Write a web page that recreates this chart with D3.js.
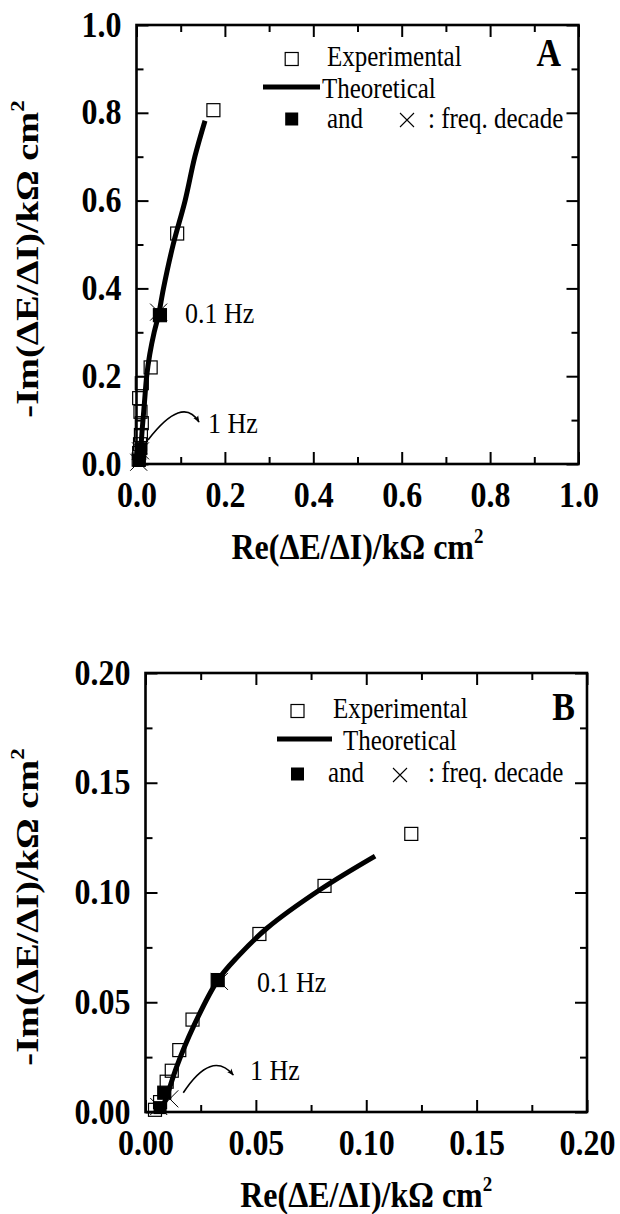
<!DOCTYPE html>
<html>
<head>
<meta charset="utf-8">
<script src="https://cdn.jsdelivr.net/npm/d3@7"></script>
<style>
  html, body { margin: 0; padding: 0; background: #fff; }
</style>
</head>
<body>
<div id="chart"></div>
<script>
// ---------------- data ----------------
// Panel A
var aExpRe   = [0.174, 0.092, 0.053, 0.032, 0.012, 0.006, 0.009, 0.012, 0.010, 0.008, 0.006, 0.005];
var aExpIm   = [0.806, 0.525, 0.339, 0.220, 0.184, 0.150, 0.119, 0.093, 0.066, 0.045, 0.025, 0.010];
var aTheoRe  = [0.004, 0.009, 0.013, 0.018, 0.023, 0.030, 0.040, 0.050, 0.061, 0.083, 0.110, 0.132, 0.155];
var aTheoIm  = [0.000, 0.030, 0.080, 0.140, 0.200, 0.250, 0.300, 0.340, 0.400, 0.500, 0.600, 0.700, 0.782];
var aDecRe   = [0.053, 0.010, 0.006];
var aDecIm   = [0.339, 0.035, 0.008];
var aCrossRe = [0.050, 0.009, 0.005];
var aCrossIm = [0.346, 0.030, 0.004];
var aTicks   = [0, 0.2, 0.4, 0.6, 0.8, 1.0];
var aMinor   = [0.1, 0.3, 0.5, 0.7, 0.9];

// Panel B
var bExpRe   = [0.1204, 0.0811, 0.0516, 0.0327, 0.0213, 0.0153, 0.0119, 0.0096, 0.0085, 0.0066, 0.0043];
var bExpIm   = [0.1267, 0.1030, 0.0811, 0.0601, 0.0421, 0.0282, 0.0188, 0.0138, 0.0088, 0.0045, 0.0010];
var bTheoRe  = [0.0073, 0.0096, 0.0141, 0.0217, 0.0326, 0.0420, 0.0550, 0.0797, 0.1040];
var bTheoIm  = [0.0010, 0.0070, 0.0206, 0.0389, 0.0598, 0.0710, 0.0837, 0.1017, 0.1166];
var bDecRe   = [0.0327, 0.0085, 0.0066];
var bDecIm   = [0.0601, 0.0088, 0.0020];
var bCrossRe = [0.0335, 0.0110, 0.0060];
var bCrossIm = [0.0595, 0.0060, 0.0025];
var bTicks   = [0, 0.05, 0.10, 0.15, 0.20];
var bMinor   = [0.025, 0.075, 0.125, 0.175];

var legendLabels = ['Experimental', 'Theoretical', 'and', ': freq. decade'];
var freqLabels = ['0.1 Hz', '1 Hz'];
var panelLetters = ['A', 'B'];
var xTitle = 'Re(\u0394E/\u0394I)/k\u03A9 cm';
var yTitle = '-Im(\u0394E/\u0394I)/k\u03A9 cm';

// ---------------- layout ----------------
var W = 620, H = 1214;
var SY = 1.15;   // the original figure is slightly stretched vertically
var FONT = '"Liberation Serif","Times New Roman",Times,serif';

var panels = [
  {
    letter: panelLetters[0], left: 136.5, right: 578.5, top: 25, bottom: 464,
    domain: [0, 1], fmt: '.1f', ticks: aTicks, minor: aMinor,
    exp: d3.zip(aExpRe, aExpIm), theo: d3.zip(aTheoRe, aTheoIm),
    dec: d3.zip(aDecRe, aDecIm), cross: d3.zip(aCrossRe, aCrossIm),
    lg: { sq1: [291.7, 59], t1: [327, 66], line: [263, 320, 87], t2: [322, 98],
          sq2: [291.7, 119], t3: [327, 128], x: [407, 120], t4: [428, 128], letter: [561, 66] },
    hz01: [185, 323], hz1: [208, 433],
    arrow: { s: [148, 440], c: [182.5, 395], e: [199, 422] }
  },
  {
    letter: panelLetters[1], left: 145.5, right: 587, top: 673, bottom: 1112,
    domain: [0, 0.2], fmt: '.2f', ticks: bTicks, minor: bMinor,
    exp: d3.zip(bExpRe, bExpIm), theo: d3.zip(bTheoRe, bTheoIm),
    dec: d3.zip(bDecRe, bDecIm), cross: d3.zip(bCrossRe, bCrossIm),
    lg: { sq1: [297.5, 711], t1: [333, 718], line: [277, 332, 739], t2: [343, 750],
          sq2: [297.5, 774], t3: [328, 782], x: [400, 775], t4: [428, 782], letter: [575, 720] },
    hz01: [257, 992], hz1: [250, 1080],
    arrow: { s: [183.3, 1092.7], c: [211.7, 1049.5], e: [233.3, 1075] }
  }
];

var svg = d3.select('#chart').append('svg')
  .attr('width', W).attr('height', H)
  .style('font-family', FONT);

svg.append('defs').append('marker')
  .attr('id', 'arrowhead')
  .attr('viewBox', '0 0 10 10')
  .attr('refX', 9).attr('refY', 5)
  .attr('markerWidth', 7).attr('markerHeight', 7)
  .attr('markerUnits', 'userSpaceOnUse')
  .attr('orient', 'auto')
  .append('path').attr('d', 'M0,1 L10,5 L0,9 L2.5,5 Z').attr('fill', '#000');

// text helper: places text at (x, y) with the vertical stretch
function label(g, x, y, str, size, weight, anchor) {
  return g.append('text')
    .attr('transform', 'translate(' + x + ',' + y + ') scale(1,' + SY + ')')
    .attr('font-size', size)
    .attr('font-weight', weight || 'normal')
    .attr('text-anchor', anchor || 'start')
    .attr('fill', '#000')
    .text(str);
}

function crossPath(cx, cy, r) {
  return 'M' + (cx - r) + ',' + (cy - r) + 'L' + (cx + r) + ',' + (cy + r) +
         'M' + (cx - r) + ',' + (cy + r) + 'L' + (cx + r) + ',' + (cy - r);
}

function styleTicks(sel) {
  sel.select('.domain').remove();
  sel.selectAll('line').attr('stroke', '#000').attr('stroke-width', 2);
}

panels.forEach(function(p) {
  var x = d3.scaleLinear().domain(p.domain).range([p.left, p.right]);
  var y = d3.scaleLinear().domain(p.domain).range([p.bottom, p.top]);
  var fmt = d3.format(p.fmt);
  var g = svg.append('g');

  // major / minor ticks on all four sides, pointing inward
  var axes = [
    [d3.axisBottom(x), 'translate(0,' + p.bottom + ')', true],
    [d3.axisLeft(y), 'translate(' + p.left + ',0)', true],
    [d3.axisTop(x), 'translate(0,' + p.top + ')', false],
    [d3.axisRight(y), 'translate(' + p.right + ',0)', false]
  ];
  axes.forEach(function(a, i) {
    var maj = g.append('g').attr('transform', a[1])
      .call(a[0].tickValues(p.ticks).tickSize(-12).tickSizeOuter(0)
        .tickFormat(a[2] ? fmt : ''));
    styleTicks(maj);
    maj.selectAll('text')
      .attr('font-family', FONT).attr('font-size', 32).attr('font-weight', 'bold')
      .attr('fill', '#000').attr('x', null).attr('y', null).attr('dy', null)
      .attr('transform', i === 0
        ? 'translate(0,43) scale(1,' + SY + ')'
        : 'translate(-15,11) scale(1,' + SY + ')');
    var axMinor = [d3.axisBottom(x), d3.axisLeft(y), d3.axisTop(x), d3.axisRight(y)][i];
    var mn = g.append('g').attr('transform', a[1])
      .call(axMinor.tickValues(p.minor).tickSize(-7).tickSizeOuter(0).tickFormat(''));
    styleTicks(mn);
  });

  // frame
  g.append('rect')
    .attr('x', p.left).attr('y', p.top)
    .attr('width', p.right - p.left).attr('height', p.bottom - p.top)
    .attr('fill', 'none').attr('stroke', '#000').attr('stroke-width', 2.6);

  // theoretical curve
  var line = d3.line()
    .x(function(d) { return x(d[0]); })
    .y(function(d) { return y(d[1]); })
    .curve(d3.curveCatmullRom.alpha(0.5));
  g.append('path').datum(p.theo)
    .attr('d', line)
    .attr('fill', 'none').attr('stroke', '#000').attr('stroke-width', 5);

  // experimental points
  var s = 13;
  g.selectAll('rect.exp').data(p.exp).enter().append('rect')
    .attr('class', 'exp')
    .attr('x', function(d) { return x(d[0]) - s / 2; })
    .attr('y', function(d) { return y(d[1]) - s / 2; })
    .attr('width', s).attr('height', s)
    .attr('fill', 'none').attr('stroke', '#000').attr('stroke-width', 1.2);

  // frequency decade markers
  g.selectAll('rect.dec').data(p.dec).enter().append('rect')
    .attr('class', 'dec')
    .attr('x', function(d) { return x(d[0]) - s / 2; })
    .attr('y', function(d) { return y(d[1]) - s / 2; })
    .attr('width', s).attr('height', s)
    .attr('fill', '#000');
  g.selectAll('path.cross').data(p.cross).enter().append('path')
    .attr('class', 'cross')
    .attr('d', function(d) { return crossPath(x(d[0]), y(d[1]), 8.5); })
    .attr('stroke', '#000').attr('stroke-width', 1).attr('fill', 'none');

  // frequency annotations
  label(g, p.hz01[0], p.hz01[1], freqLabels[0], 26);
  label(g, p.hz1[0], p.hz1[1], freqLabels[1], 26);
  var ar = p.arrow;
  g.append('path')
    .attr('d', 'M' + ar.s + 'Q' + ar.c + ' ' + ar.e)
    .attr('fill', 'none').attr('stroke', '#000').attr('stroke-width', 1.6)
    .attr('marker-end', 'url(#arrowhead)');

  // legend
  var lg = p.lg;
  g.append('rect').attr('x', lg.sq1[0] - 6.5).attr('y', lg.sq1[1] - 6.5)
    .attr('width', 13).attr('height', 13)
    .attr('fill', 'none').attr('stroke', '#000').attr('stroke-width', 1.2);
  label(g, lg.t1[0], lg.t1[1], legendLabels[0], 25);
  g.append('line').attr('x1', lg.line[0]).attr('x2', lg.line[1])
    .attr('y1', lg.line[2]).attr('y2', lg.line[2])
    .attr('stroke', '#000').attr('stroke-width', 5);
  label(g, lg.t2[0], lg.t2[1], legendLabels[1], 25);
  g.append('rect').attr('x', lg.sq2[0] - 6.5).attr('y', lg.sq2[1] - 6.5)
    .attr('width', 13).attr('height', 13).attr('fill', '#000');
  label(g, lg.t3[0], lg.t3[1], legendLabels[2], 25);
  g.append('path').attr('d', crossPath(lg.x[0], lg.x[1], 7))
    .attr('stroke', '#000').attr('stroke-width', 1.1).attr('fill', 'none');
  label(g, lg.t4[0], lg.t4[1], legendLabels[3], 25);
  label(g, lg.letter[0], lg.letter[1], p.letter, 34, 'bold', 'end');

  // axis titles
  var cx = (p.left + p.right) / 2;
  var xt = label(g, cx, p.bottom + 95, '', 32, 'bold', 'middle');
  xt.append('tspan').text(xTitle);
  xt.append('tspan').attr('font-size', 19).attr('dy', -14).text('2');

  var yt = g.append('text')
    .attr('transform', 'translate(38,' + (p.top + 234) + ') rotate(-90) scale(1.2,1)')
    .attr('font-size', 32).attr('font-weight', 'bold')
    .attr('text-anchor', 'middle').attr('fill', '#000');
  yt.append('tspan').text(yTitle);
  yt.append('tspan').attr('font-size', 19).attr('dy', -14).text('2');
});
</script>
</body>
</html>
